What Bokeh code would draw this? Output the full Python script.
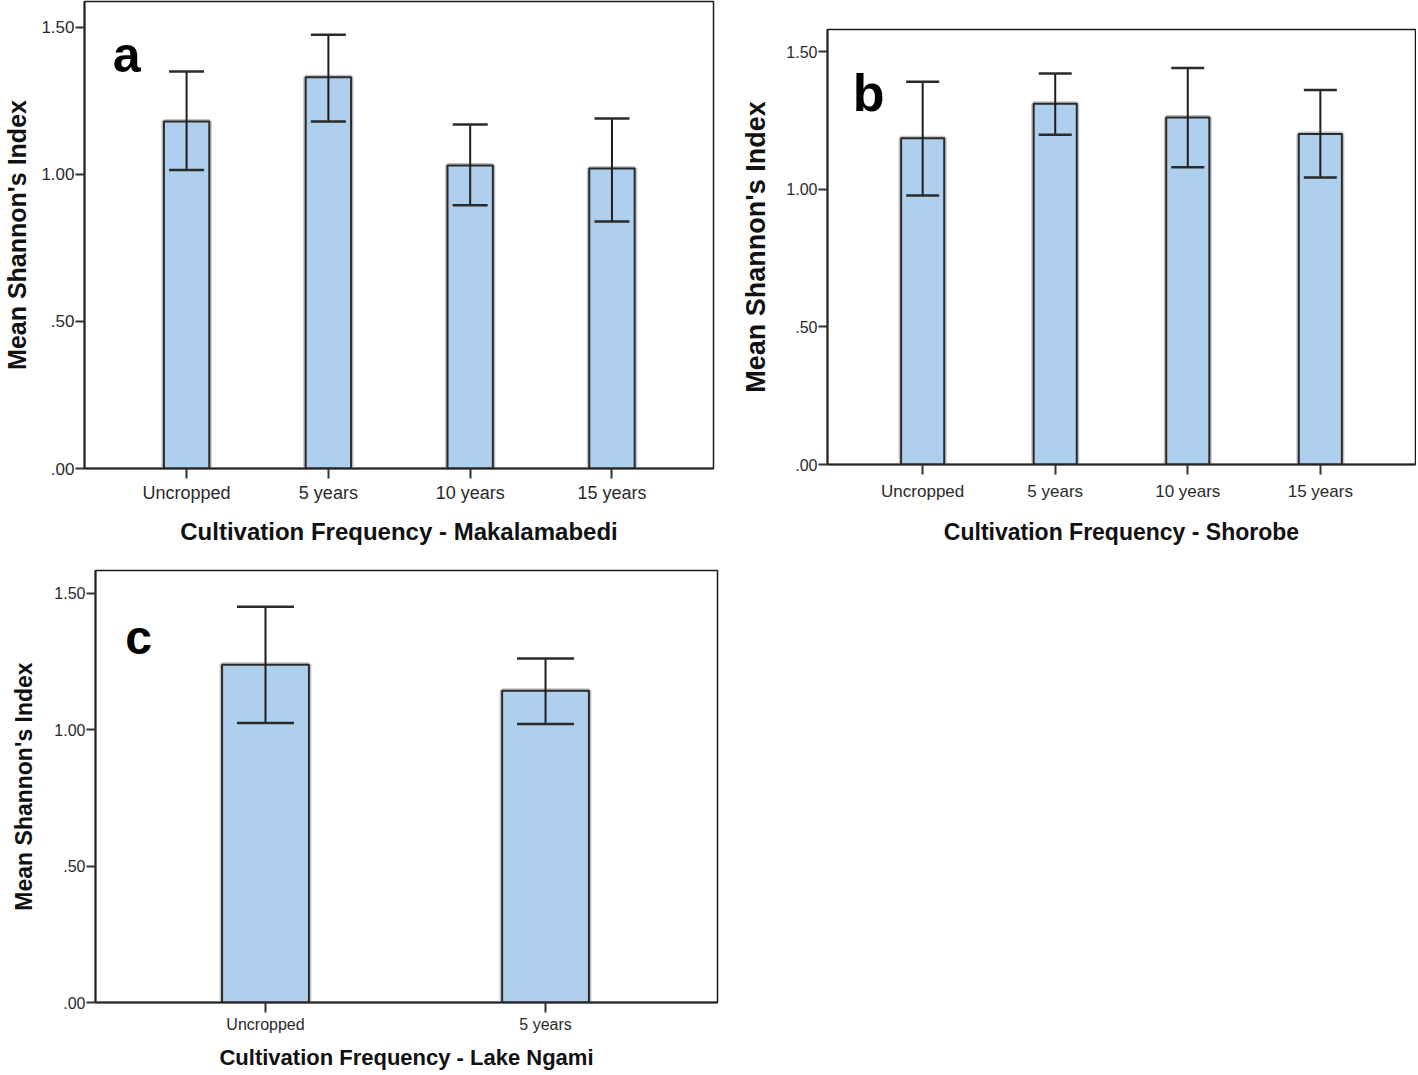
from bokeh.plotting import figure
from bokeh.models import (ColumnDataSource, Range1d, FixedTicker, Whisker, TeeHead, Label, Spacer)
from bokeh.layouts import column, row
from bokeh.embed import file_html
from bokeh.resources import INLINE

# ---------------- data ----------------
cats_a = ["Uncropped", "5 years", "10 years", "15 years"]
mean_a = [1.18, 1.33, 1.03, 1.02]
upper_a = [1.35, 1.475, 1.17, 1.19]
lower_a = [1.015, 1.18, 0.895, 0.84]

cats_b = ["Uncropped", "5 years", "10 years", "15 years"]
mean_b = [1.185, 1.31, 1.26, 1.20]
upper_b = [1.39, 1.42, 1.44, 1.36]
lower_b = [0.977, 1.198, 1.08, 1.042]

cats_c = ["Uncropped", "5 years"]
mean_c = [1.238, 1.143]
upper_c = [1.451, 1.261]
lower_c = [1.025, 1.021]

yticks = [0.0, 0.5, 1.0, 1.5]
ytick_labels = [".00", ".50", "1.00", "1.50"]

xlabel_a = "Cultivation Frequency - Makalamabedi"
xlabel_b = "Cultivation Frequency - Shorobe"
xlabel_c = "Cultivation Frequency - Lake Ngami"
ylabel = "Mean Shannon's Index"

FONT = "Liberation Sans"
BAR_FILL = "#aed0ee"


def make_panel(cats, means, uppers, lowers, xlabel, letter, *, width, height,
               mb_left, mb_right, mb_top, mb_bottom, x_start, x_end, y_end,
               bar_w, cap, tick_fs, ytick_fs, xlab_fs, ylab_fs, letter_pos,
               letter_fs, xlab_standoff, ylab_standoff, tick_standoff):
    xs = list(range(len(cats)))
    src = ColumnDataSource(dict(x=xs, mean=means, upper=uppers, lower=lowers))
    p = figure(width=width, height=height, output_backend="svg",
               toolbar_location=None, title=None, min_border_left=mb_left,
               min_border_right=mb_right, min_border_top=mb_top,
               min_border_bottom=mb_bottom,
               x_range=Range1d(x_start, x_end), y_range=Range1d(0, y_end))
    p.grid.visible = False
    p.outline_line_color = "#1a1a1a"
    p.outline_line_width = 1.5
    p.background_fill_color = "white"
    p.border_fill_color = "white"

    # bars (soft halo + dark outline)
    p.vbar(x="x", top="mean", bottom=0, width=bar_w, source=src,
           fill_color=BAR_FILL, line_color="#c4c4c4", line_width=5)
    p.vbar(x="x", top="mean", bottom=0, width=bar_w, source=src,
           fill_color=BAR_FILL, line_color="#2a2a2a", line_width=2)

    w = Whisker(source=src, base="x", upper="upper", lower="lower",
                line_color="#1e1e1e", line_width=2, level="overlay",
                upper_head=TeeHead(size=cap, line_color="#2a2a2a", line_width=2.5),
                lower_head=TeeHead(size=cap, line_color="#2a2a2a", line_width=2.5))
    p.add_layout(w)

    # x axis
    xa = p.xaxis[0]
    xa.ticker = FixedTicker(ticks=xs)
    xa.major_label_overrides = {i: c for i, c in enumerate(cats)}
    xa.axis_label = xlabel
    xa.axis_label_text_font = FONT
    xa.axis_label_text_font_style = "bold"
    xa.axis_label_text_font_size = xlab_fs
    xa.axis_label_text_color = "#111111"
    xa.axis_label_standoff = xlab_standoff
    xa.major_label_text_font = FONT
    xa.major_label_text_font_size = tick_fs
    xa.major_label_text_color = "#2a2a2a"
    xa.major_label_standoff = tick_standoff
    xa.major_tick_in = 0
    xa.major_tick_out = 10
    xa.minor_tick_out = 0
    xa.minor_tick_in = 0
    xa.axis_line_width = 2
    xa.axis_line_color = "#222222"
    xa.major_tick_line_width = 2
    xa.major_tick_line_color = "#333333"

    # y axis
    ya = p.yaxis[0]
    ya.ticker = FixedTicker(ticks=yticks)
    ya.major_label_overrides = {t: s for t, s in zip(yticks, ytick_labels)}
    ya.axis_label = ylabel
    ya.axis_label_text_font = FONT
    ya.axis_label_text_font_style = "bold"
    ya.axis_label_text_font_size = ylab_fs
    ya.axis_label_text_color = "#111111"
    ya.axis_label_standoff = ylab_standoff
    ya.major_label_text_font = FONT
    ya.major_label_text_font_size = ytick_fs
    ya.major_label_text_color = "#2a2a2a"
    ya.major_label_standoff = 1
    ya.major_tick_in = 0
    ya.major_tick_out = 9
    ya.minor_tick_out = 0
    ya.minor_tick_in = 0
    ya.axis_line_width = 2
    ya.axis_line_color = "#222222"
    ya.major_tick_line_width = 2
    ya.major_tick_line_color = "#333333"

    lab = Label(x=letter_pos[0], y=letter_pos[1], text=letter,
                text_font=FONT, text_font_style="bold",
                text_font_size=letter_fs, text_align="center",
                text_baseline="alphabetic", text_color="black")
    p.add_layout(lab)
    return p


pa = make_panel(cats_a, mean_a, upper_a, lower_a, xlabel_a, "a",
                width=736, height=548, mb_left=84, mb_right=23, mb_top=1,
                mb_bottom=80, x_start=-0.72, x_end=3.716, y_end=1.588,
                bar_w=0.32, cap=35, tick_fs="18px", ytick_fs="17px",
                xlab_fs="24px", ylab_fs="25px", letter_pos=(-0.423, 1.405),
                letter_fs="50px", xlab_standoff=12, ylab_standoff=7,
                tick_standoff=4)

pb = make_panel(cats_b, mean_b, upper_b, lower_b, xlabel_b, "b",
                width=680, height=520, mb_left=91, mb_right=1, mb_top=1,
                mb_bottom=84, x_start=-0.718, x_end=3.718, y_end=1.58,
                bar_w=0.325, cap=33, tick_fs="17px", ytick_fs="16px",
                xlab_fs="23px", ylab_fs="27px", letter_pos=(-0.408, 1.351),
                letter_fs="52px", xlab_standoff=15, ylab_standoff=12,
                tick_standoff=7)

pc = make_panel(cats_c, mean_c, upper_c, lower_c, xlabel_c, "c",
                width=720, height=524, mb_left=95, mb_right=3, mb_top=22,
                mb_bottom=69, x_start=-0.607, x_end=1.614, y_end=1.584,
                bar_w=0.31, cap=57, tick_fs="16px", ytick_fs="16px",
                xlab_fs="22px", ylab_fs="23px", letter_pos=(-0.453, 1.339),
                letter_fs="48px", xlab_standoff=9, ylab_standoff=14,
                tick_standoff=3)

layout = column(row(pa, column(Spacer(height=28, width=680), pb)), pc)
open("out.html", "w").write(file_html(layout, INLINE))
